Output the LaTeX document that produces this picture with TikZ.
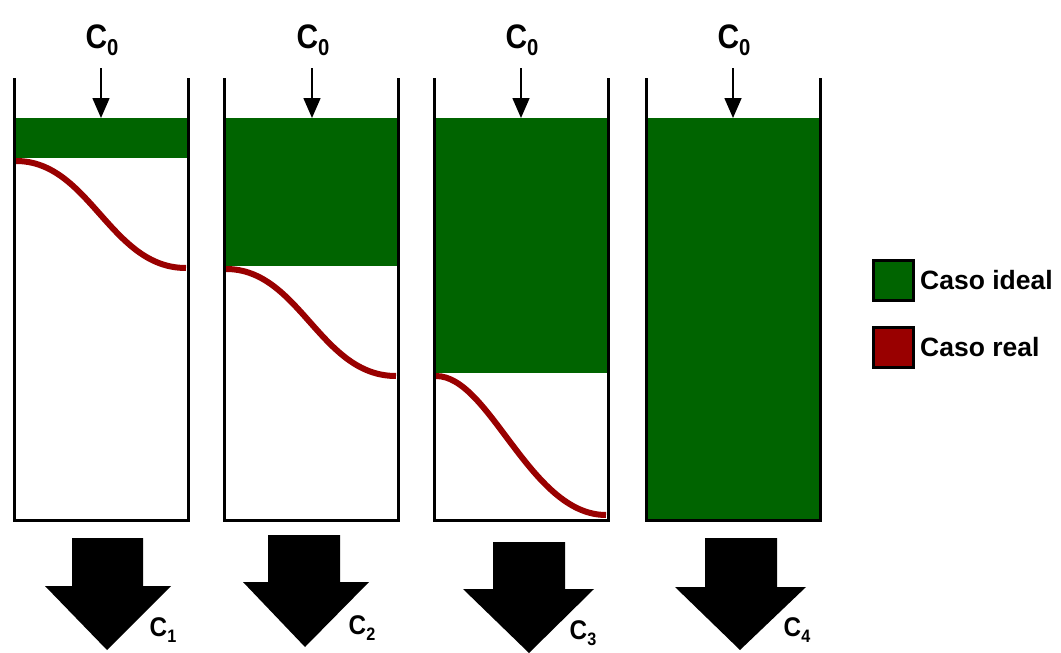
\documentclass[tikz,border=0pt]{standalone}
\usepackage{fontspec}
\setmainfont{Liberation Sans}
\usetikzlibrary{arrows.meta}
\definecolor{ideal}{RGB}{0,100,0}
\definecolor{real}{RGB}{153,0,0}
\begin{document}
\begin{tikzpicture}[x=1pt,y=-1pt,
  wall/.style={line width=3pt,black},
  feed/.style={line width=1.6pt,black,-{Triangle[length=20pt,width=17pt]}},
  curve/.style={line width=6pt,real},
  bigarrow/.style={fill=black,draw=none},
  toplabel/.style={font=\bfseries\fontsize{34}{34}\selectfont,inner sep=0pt},
  outlabel/.style={font=\bfseries\fontsize{27}{27}\selectfont,inner sep=0pt},
  legtext/.style={font=\bfseries\fontsize{26.5}{26.5}\selectfont,anchor=west,inner sep=0pt},
  legbox/.style={line width=3pt,draw=black,minimum width=40pt,minimum height=40pt,inner sep=0pt}]
\useasboundingbox (0,0) rectangle (1061,653);
% green fills
\fill[ideal] (14,118) rectangle (188,158);
\fill[ideal] (224,118) rectangle (398,266);
\fill[ideal] (434,118) rectangle (608,373);
\fill[ideal] (646,118) rectangle (820,520);
% red curves
\draw[curve] (16,161) .. controls (90,161) and (110,268) .. (186,268);
\draw[curve] (226,269) .. controls (300,269) and (320,376) .. (396,376);
\draw[curve] (436,376) .. controls (490,376) and (530,515) .. (606,515);
% columns
\foreach \l/\r in {14/188,224/398,434/608,646/820}{
  \draw[wall] (\l,78) -- (\l,520) -- (\r,520) -- (\r,78);
}
% C0 labels and feed arrows
\foreach \c/\n in {101/a,312/b,521/c,733/d}{
  \node[toplabel] (top\n) at (\c+1,40) {\scalebox{0.88}[1]{C\raisebox{-7pt}{\fontsize{23}{23}\selectfont 0}}};
  \coordinate (fs\n) at (\c,68);
  \coordinate (fe\n) at (\c,118);
  \draw[feed] (fs\n) -- (fe\n);
}
% big outlet arrows
\foreach \sl/\sr/\st/\hy/\hl/\hr/\tx/\ty in {72/143/538/586/45/171/107/650,
  268/340/535/582/243/369/305/647,
  493/565/542/589/463/594/529/653,
  705/777/538/587/675/806/740/650}{
  \fill[bigarrow] (\sl,\st) -- (\sr,\st) -- (\sr,\hy) -- (\hr,\hy) -- (\tx,\ty) -- (\hl,\hy) -- (\sl,\hy) -- cycle;
}
\node[outlabel] (c1) at (163,630) {\scalebox{0.9}[1]{C\raisebox{-6pt}{\fontsize{18}{18}\selectfont 1}}};
\node[outlabel] (c2) at (362,628) {\scalebox{0.9}[1]{C\raisebox{-6pt}{\fontsize{18}{18}\selectfont 2}}};
\node[outlabel] (c3) at (583,633) {\scalebox{0.9}[1]{C\raisebox{-6pt}{\fontsize{18}{18}\selectfont 3}}};
\node[outlabel] (c4) at (797,630) {\scalebox{0.9}[1]{C\raisebox{-6pt}{\fontsize{18}{18}\selectfont 4}}};
% legend
\node[legbox,fill=ideal] (lg1) at (893,280) {};
\node[legbox,fill=real] (lg2) at (893,347) {};
\node[legtext] (lt1) at (920,280) {Caso ideal};
\node[legtext] (lt2) at (920,347) {Caso real};
\end{tikzpicture}
\end{document}
